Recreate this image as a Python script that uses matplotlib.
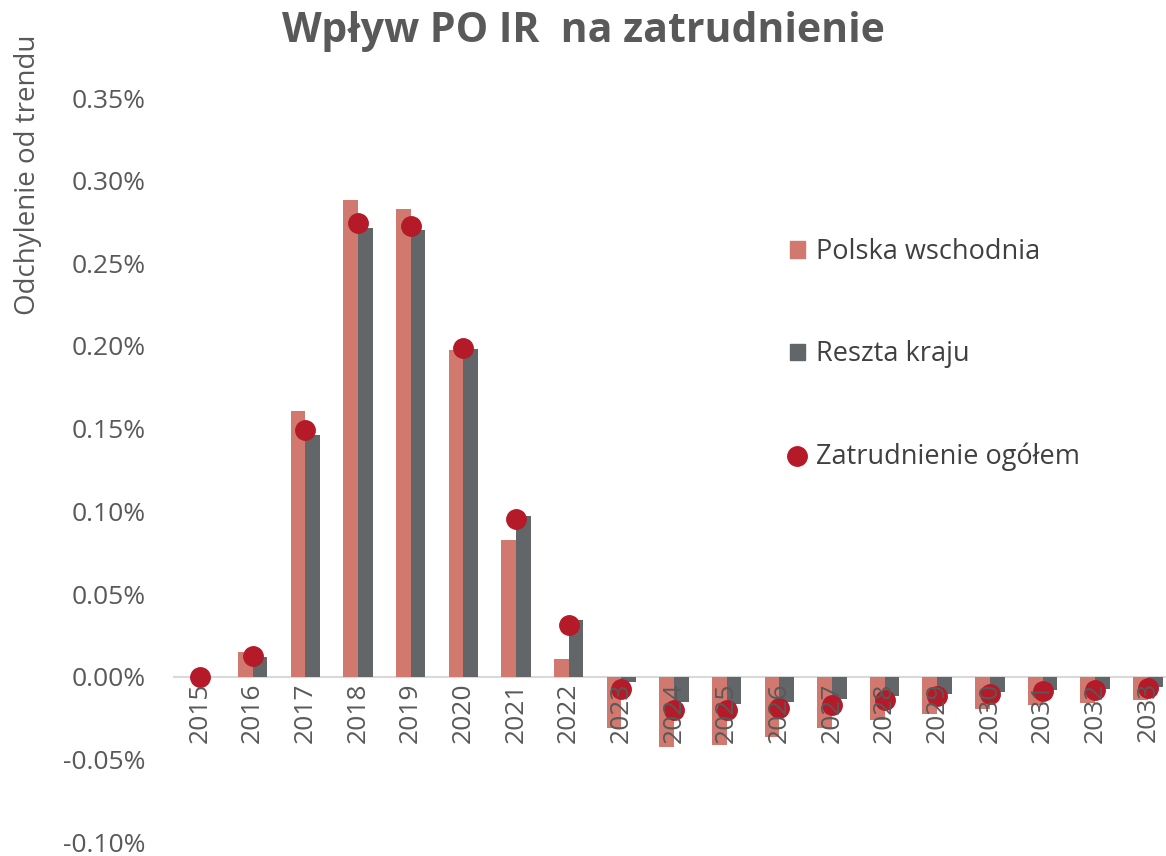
import matplotlib
matplotlib.use("Agg")
import matplotlib.pyplot as plt
from matplotlib.ticker import FuncFormatter
from matplotlib.lines import Line2D
from matplotlib.patches import Patch
import numpy as np

years = [str(y) for y in range(2015, 2034)]
# values in percent
polska_wsch = [0.0, 0.0148, 0.1606, 0.2885, 0.2827, 0.1976, 0.0828, 0.0109, -0.0310,
               -0.0427, -0.0414, -0.0364, -0.0308, -0.0260, -0.0227, -0.0197, -0.0173,
               -0.0157, -0.0143]
reszta_kraju = [0.0, 0.0119, 0.1464, 0.2714, 0.2702, 0.1984, 0.0971, 0.0344, -0.0030,
                -0.0153, -0.0167, -0.0153, -0.0137, -0.0117, -0.0103, -0.0093, -0.0083,
                -0.0072, -0.0062]
zatrudnienie = [0.0, 0.0125, 0.1490, 0.2741, 0.2723, 0.1986, 0.0951, 0.0310, -0.0077,
                -0.0203, -0.0203, -0.0187, -0.0169, -0.0139, -0.0117, -0.0103, -0.0089,
                -0.0083, -0.0068]

c_pw = "#D1796E"
c_rk = "#626668"
c_dot = "#B51A29"
c_txt = "#595959"
font = "Open Sans"

W, H = 1166, 856
fig = plt.figure(figsize=(W / 100, H / 100), dpi=100)
# plot area in pixels: left 173.7, width 19 categories * 52.66
ax = fig.add_axes([173.7 / W, 14 / H, 1000.5 / W, 744 / H])

x = np.arange(len(years))
w = 0.28
ax.bar(x - w / 2, polska_wsch, w, color=c_pw, zorder=1)
ax.bar(x + w / 2, reszta_kraju, w, color=c_rk, zorder=1)
ax.plot(x, zatrudnienie, 'o', color=c_dot, markersize=14, zorder=2, linestyle='none')

ax.set_ylim(-0.10, 0.35)
ax.set_xlim(-0.5, 18.5)
ax.set_yticks(np.arange(-0.10, 0.351, 0.05))
ax.yaxis.set_major_formatter(FuncFormatter(lambda v, p: "%.2f%%" % v))
ax.set_axisbelow(False)

for s in ['top', 'right', 'left']:
    ax.spines[s].set_visible(False)
ax.spines['bottom'].set_position(('data', 0))
ax.spines['bottom'].set_color("#D9D9D9")
ax.spines['bottom'].set_linewidth(1.5)
ax.spines['bottom'].set_zorder(0.5)

ax.set_xticks(x)
ax.set_xticklabels(years, rotation=90, fontsize=19, color=c_txt, family=font)
ax.tick_params(axis='x', length=0, pad=4)
ax.tick_params(axis='y', length=0, pad=20, labelsize=19, labelcolor=c_txt)
for t in ax.get_yticklabels():
    t.set_family(font)

fig.text(583 / W, 1 - 32 / H, "Wpływ PO IR  na zatrudnienie", ha='center', va='center',
         fontsize=29.5, fontweight='bold', color=c_txt, family=font)
fig.text(28 / W, 1 - 175 / H, "Odchylenie od trendu", rotation=90, ha='center',
         va='center', fontsize=20, color=c_txt, family=font)

handles = [Patch(color=c_pw), Patch(color=c_rk),
           Line2D([], [], marker='o', color=c_dot, linestyle='none', markersize=14)]
labels = ["Polska wschodnia", "Reszta kraju", "Zatrudnienie ogółem"]
leg = fig.legend(handles, labels, loc='upper left',
                 bbox_to_anchor=(790 / W, 1 - 238 / H),
                 frameon=False, labelspacing=2.75, handlelength=0.55, handleheight=0.55,
                 handletextpad=0.4, borderpad=0, borderaxespad=0,
                 prop={'family': font, 'size': 19.5})
for t in leg.get_texts():
    t.set_color("#404040")

fig.savefig("out.png", dpi=100)
